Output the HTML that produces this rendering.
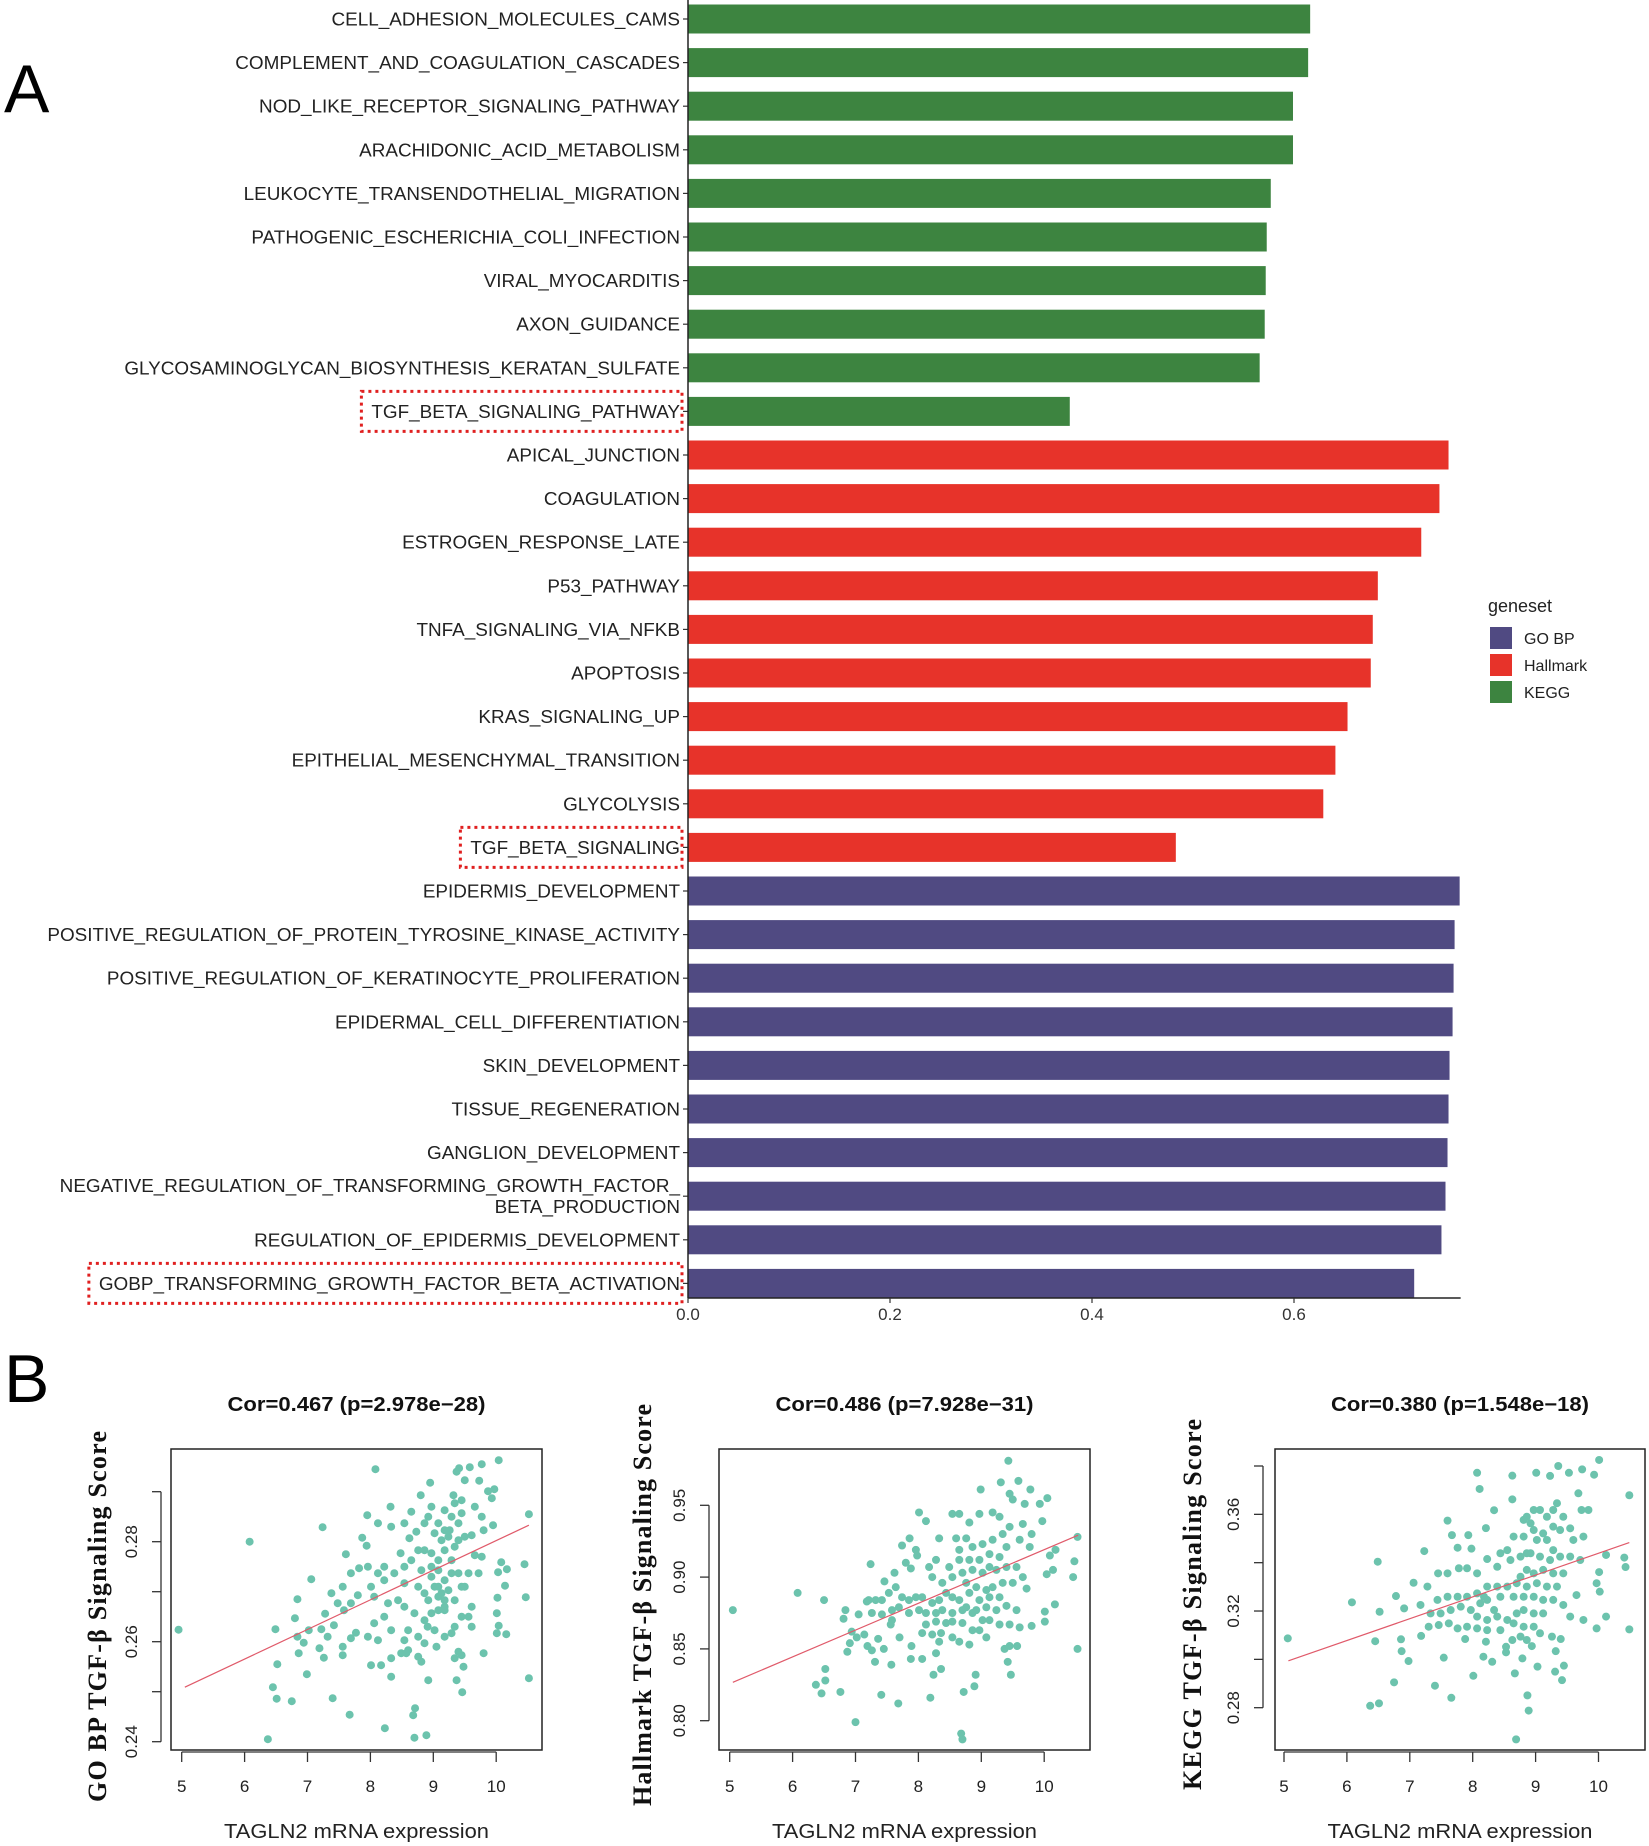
<!DOCTYPE html>
<html><head><meta charset="utf-8"><style>
html,body{margin:0;padding:0;background:#fff}
svg{display:block}
text{font-family:"Liberation Sans",Arial,sans-serif}
</style></head><body>
<svg id="fig" width="1649" height="1846" viewBox="0 0 1649 1846" xmlns="http://www.w3.org/2000/svg">
<text x="4" y="112" font-size="68">A</text>
<text x="4" y="1402" font-size="68">B</text>
<g id="bars"></g>
<g id="legend">
<text x="1488" y="612" font-size="18" fill="#222">geneset</text>
<rect x="1490" y="627" width="22" height="22" fill="#504a82"/>
<text x="1524" y="644" font-size="16" fill="#222">GO BP</text>
<rect x="1490" y="654" width="22" height="22" fill="#e7332a"/>
<text x="1524" y="671" font-size="16" fill="#222">Hallmark</text>
<rect x="1490" y="681" width="22" height="22" fill="#3d8440"/>
<text x="1524" y="698" font-size="16" fill="#222">KEGG</text>
</g>
<g id="scatters"></g>
</svg>
<script>
const NS="http://www.w3.org/2000/svg";
// ---- bar chart data ----
const barCategories=["CELL_ADHESION_MOLECULES_CAMS","COMPLEMENT_AND_COAGULATION_CASCADES","NOD_LIKE_RECEPTOR_SIGNALING_PATHWAY","ARACHIDONIC_ACID_METABOLISM","LEUKOCYTE_TRANSENDOTHELIAL_MIGRATION","PATHOGENIC_ESCHERICHIA_COLI_INFECTION","VIRAL_MYOCARDITIS","AXON_GUIDANCE","GLYCOSAMINOGLYCAN_BIOSYNTHESIS_KERATAN_SULFATE","TGF_BETA_SIGNALING_PATHWAY","APICAL_JUNCTION","COAGULATION","ESTROGEN_RESPONSE_LATE","P53_PATHWAY","TNFA_SIGNALING_VIA_NFKB","APOPTOSIS","KRAS_SIGNALING_UP","EPITHELIAL_MESENCHYMAL_TRANSITION","GLYCOLYSIS","TGF_BETA_SIGNALING","EPIDERMIS_DEVELOPMENT","POSITIVE_REGULATION_OF_PROTEIN_TYROSINE_KINASE_ACTIVITY","POSITIVE_REGULATION_OF_KERATINOCYTE_PROLIFERATION","EPIDERMAL_CELL_DIFFERENTIATION","SKIN_DEVELOPMENT","TISSUE_REGENERATION","GANGLION_DEVELOPMENT","NEGATIVE_REGULATION_OF_TRANSFORMING_GROWTH_FACTOR_|BETA_PRODUCTION","REGULATION_OF_EPIDERMIS_DEVELOPMENT","GOBP_TRANSFORMING_GROWTH_FACTOR_BETA_ACTIVATION"];
const barValues=[0.616,0.614,0.599,0.599,0.577,0.573,0.572,0.571,0.566,0.378,0.753,0.744,0.726,0.683,0.678,0.676,0.653,0.641,0.629,0.483,0.764,0.759,0.758,0.757,0.754,0.753,0.752,0.750,0.746,0.719];
const barGroups=["KEGG","KEGG","KEGG","KEGG","KEGG","KEGG","KEGG","KEGG","KEGG","KEGG","Hallmark","Hallmark","Hallmark","Hallmark","Hallmark","Hallmark","Hallmark","Hallmark","Hallmark","Hallmark","GO BP","GO BP","GO BP","GO BP","GO BP","GO BP","GO BP","GO BP","GO BP","GO BP"];
const highlighted=["TGF_BETA_SIGNALING_PATHWAY","TGF_BETA_SIGNALING","GOBP_TRANSFORMING_GROWTH_FACTOR_BETA_ACTIVATION"];
const xTicks=[0,0.2,0.4,0.6];
const xTickLabels=["0.0","0.2","0.4","0.6"];
const groupColor={"KEGG":"#3d8440","Hallmark":"#e7332a","GO BP":"#504a82"};
function el(tag,attrs,parent){const e=document.createElementNS(NS,tag);for(const k in attrs)e.setAttribute(k,attrs[k]);parent.appendChild(e);return e;}
const bx=v=>688+v*1010;
const by=i=>19+i*43.6;
const bars=document.getElementById('bars');
barCategories.forEach((c,i)=>{
  const r=el('rect',{x:bx(0),y:by(i)-14.5,width:bx(barValues[i])-bx(0),height:29,fill:groupColor[barGroups[i]]},bars);
  
  
  const tk=el('line',{x1:683,x2:688,y1:by(i),y2:by(i),stroke:'#333','stroke-width':1.2},bars);
  
  
  const parts=c.split('|');
  parts.forEach((p,j)=>{
    const dy=parts.length>1?(j===0?-4:17):6.5;
    const t=el('text',{x:680,y:by(i)+dy,'text-anchor':'end','font-size':18.9,fill:'#222'},bars);
    t.textContent=p;
    
    
    if(highlighted.includes(c)){
      const w=t.getComputedTextLength();
      const b=el('rect',{x:680-w-10,y:by(i)-20,width:w+12,height:40,fill:'none',stroke:'#e02020','stroke-width':3,'stroke-dasharray':'3,4'},bars);
      
      
    }
  });
});
let ax=el('line',{x1:688,x2:688,y1:0,y2:1298,stroke:'#222','stroke-width':1.5},bars);


ax=el('line',{x1:688,x2:bx(0.765),y1:1298,y2:1298,stroke:'#222','stroke-width':1.5},bars);


xTicks.forEach((v,i)=>{
  const l=el('line',{x1:bx(v),x2:bx(v),y1:1298,y2:1303,stroke:'#333','stroke-width':1.2},bars);
  
  
  const t=el('text',{x:bx(v),y:1320,'text-anchor':'middle','font-size':17,fill:'#333'},bars);
  t.textContent=xTickLabels[i];
  
  
});
// ---- scatter data ----
const p1x=[4.95,6.08,7.24,8.08,6.37,6.45,6.51,6.75,7.40,7.67,8.23,8.70,8.89,8.71,8.68,10.52,10.52,10.04,9.77,9.58,9.41,9.37,9.73,9.50,9.97,9.87,8.95,8.80,8.32,7.95,8.12,7.87,7.94,7.61,7.06,6.84,6.80,6.49,6.86,6.99,6.52,7.28,7.38,7.56,7.02,7.22,7.42,6.84,6.94,7.19,7.26,7.56,7.56,7.32,7.69,7.77,7.58,7.69,7.48,7.80,7.69,7.82,7.96,8.01,8.06,8.12,8.22,8.22,8.38,8.48,8.33,8.54,8.65,8.62,8.73,8.86,8.97,9.08,9.18,9.29,9.40,9.24,9.40,9.50,9.61,9.66,9.77,9.80,9.95,9.93,8.86,8.97,9.08,9.18,9.29,8.76,8.65,8.54,8.81,8.97,9.08,9.18,9.08,8.86,8.76,8.54,8.44,8.28,8.54,8.70,8.86,8.97,9.08,9.18,9.34,9.45,9.56,9.72,9.77,9.66,9.50,9.61,9.56,9.45,9.34,9.18,9.02,8.91,8.76,8.60,8.54,8.60,8.49,8.33,8.22,8.06,7.96,8.12,8.01,8.17,8.33,8.33,8.57,8.76,8.81,8.92,9.05,8.86,9.40,9.34,9.45,9.48,9.37,9.46,9.80,10.01,10.16,10.04,10.01,10.02,10.14,10.03,10.17,10.08,10.45,10.47,9.61,9.29,9.18,9.24,9.29,9.40,9.08,8.97,9.02,9.13,9.18,8.92,9.18,9.34,9.45,9.32,9.26,9.34,9.13,9.02,8.92,9.45];
const p1y=[0.2624,0.2800,0.2829,0.2945,0.2405,0.2509,0.2486,0.2481,0.2487,0.2454,0.2427,0.2408,0.2413,0.2467,0.2453,0.2527,0.2855,0.2963,0.2955,0.2949,0.2947,0.2940,0.2922,0.2923,0.2905,0.2901,0.2918,0.2893,0.2870,0.2853,0.2837,0.2808,0.2792,0.2775,0.2725,0.2685,0.2647,0.2625,0.2577,0.2535,0.2555,0.2656,0.2697,0.2710,0.2623,0.2625,0.2633,0.2610,0.2598,0.2587,0.2568,0.2573,0.2590,0.2610,0.2607,0.2618,0.2663,0.2677,0.2677,0.2693,0.2737,0.2747,0.2750,0.2710,0.2690,0.2737,0.2723,0.2750,0.2737,0.2777,0.2830,0.2837,0.2860,0.2807,0.2820,0.2837,0.2870,0.2837,0.2863,0.2850,0.2837,0.2810,0.2803,0.2810,0.2813,0.2870,0.2850,0.2823,0.2833,0.2887,0.2783,0.2777,0.2763,0.2783,0.2763,0.2783,0.2763,0.2750,0.2743,0.2730,0.2710,0.2723,0.2690,0.2697,0.2710,0.2717,0.2683,0.2677,0.2670,0.2657,0.2643,0.2657,0.2663,0.2663,0.2683,0.2710,0.2737,0.2737,0.2770,0.2773,0.2710,0.2670,0.2650,0.2650,0.2630,0.2610,0.2623,0.2630,0.2610,0.2623,0.2603,0.2583,0.2577,0.2623,0.2650,0.2637,0.2610,0.2603,0.2553,0.2553,0.2530,0.2567,0.2577,0.2570,0.2560,0.2523,0.2590,0.2597,0.2580,0.2567,0.2573,0.2550,0.2523,0.2499,0.2577,0.2617,0.2615,0.2632,0.2657,0.2688,0.2712,0.2739,0.2745,0.2759,0.2755,0.2689,0.2630,0.2617,0.2670,0.2703,0.2737,0.2737,0.2743,0.2750,0.2710,0.2697,0.2683,0.2683,0.2823,0.2877,0.2883,0.2893,0.2823,0.2790,0.2803,0.2817,0.2850,0.2857];
const p2x=[5.05,6.08,6.50,7.24,6.37,6.46,6.52,6.52,6.76,7.00,7.41,7.68,8.19,8.24,8.36,8.72,8.89,8.91,8.68,8.70,9.47,9.42,9.37,9.45,9.57,10.53,10.01,10.01,10.17,10.04,10.14,10.09,10.18,10.46,10.48,10.53,9.97,10.05,9.93,9.78,9.59,9.43,9.31,8.99,9.45,9.50,9.69,9.66,9.80,9.77,9.61,9.45,9.29,9.18,8.97,8.81,8.65,8.54,8.01,8.12,7.86,7.74,7.96,7.98,7.80,7.88,7.62,7.46,8.33,8.60,8.76,8.65,8.86,9.02,9.18,9.34,9.40,9.29,9.13,8.97,8.81,8.65,8.49,8.28,8.17,8.22,8.38,8.54,8.70,8.86,9.02,9.13,9.24,9.40,9.56,9.66,9.50,9.34,9.18,9.08,8.92,8.76,8.81,8.97,9.13,9.29,9.40,9.56,9.72,9.24,9.08,8.92,8.76,8.65,8.54,8.44,8.33,8.22,8.06,7.96,7.85,7.74,7.64,7.53,7.42,7.32,7.21,7.26,7.42,7.58,7.69,7.85,8.01,8.12,8.28,8.38,8.54,8.70,8.86,9.02,9.13,8.97,8.86,8.70,8.54,8.44,8.28,8.12,8.06,8.22,8.36,8.54,8.65,8.81,9.08,9.29,9.45,9.61,9.80,8.33,8.28,8.06,7.89,7.88,7.57,7.70,7.58,7.56,7.36,7.45,7.31,7.26,7.19,7.14,7.02,6.94,6.91,6.87,6.81,6.84,7.05,7.18];
const p2y=[0.877,0.889,0.884,0.909,0.825,0.819,0.828,0.836,0.820,0.799,0.818,0.812,0.816,0.832,0.836,0.820,0.824,0.832,0.791,0.787,0.832,0.841,0.850,0.852,0.852,0.850,0.869,0.876,0.881,0.902,0.905,0.915,0.919,0.900,0.911,0.928,0.939,0.955,0.951,0.961,0.967,0.981,0.966,0.961,0.958,0.954,0.951,0.937,0.930,0.921,0.926,0.935,0.942,0.945,0.944,0.938,0.944,0.944,0.945,0.939,0.927,0.922,0.919,0.915,0.910,0.906,0.903,0.897,0.927,0.927,0.927,0.919,0.921,0.923,0.926,0.930,0.921,0.914,0.916,0.912,0.912,0.912,0.907,0.912,0.907,0.900,0.896,0.900,0.903,0.905,0.903,0.907,0.905,0.907,0.907,0.900,0.896,0.896,0.893,0.891,0.893,0.896,0.889,0.884,0.886,0.886,0.880,0.877,0.892,0.877,0.879,0.877,0.879,0.884,0.886,0.889,0.884,0.882,0.886,0.886,0.884,0.886,0.893,0.889,0.884,0.884,0.884,0.875,0.874,0.877,0.879,0.875,0.877,0.875,0.875,0.877,0.875,0.877,0.875,0.870,0.870,0.863,0.863,0.868,0.869,0.868,0.869,0.867,0.861,0.860,0.861,0.858,0.855,0.853,0.858,0.867,0.867,0.865,0.866,0.855,0.847,0.843,0.852,0.843,0.839,0.858,0.870,0.867,0.857,0.850,0.841,0.849,0.852,0.860,0.858,0.862,0.854,0.848,0.871,0.877,0.874,0.883];
const p3x=[5.06,6.08,6.49,6.52,6.45,6.37,6.51,6.75,6.98,6.87,6.86,7.18,7.40,7.54,7.66,8.01,8.17,8.31,8.67,8.79,8.87,8.89,8.69,9.03,9.31,9.42,9.45,9.32,9.40,9.26,9.97,10.12,10.49,10.43,10.41,10.12,10.02,9.97,10.01,10.49,10.01,9.93,9.74,9.53,9.36,9.23,9.01,8.63,8.07,8.11,8.63,8.34,8.21,7.60,7.67,7.93,7.76,7.98,7.23,7.06,6.78,6.91,7.17,7.28,7.45,7.60,7.78,7.91,8.07,8.23,8.39,8.55,8.44,8.65,8.81,8.92,8.86,8.97,9.07,9.18,9.28,9.34,9.44,9.39,9.55,9.60,9.76,9.73,9.84,9.68,9.02,9.18,9.28,9.39,9.55,9.71,9.07,8.92,8.76,8.60,8.86,8.97,9.12,9.28,9.44,9.34,9.18,9.02,8.86,8.70,8.55,8.39,8.23,8.07,7.91,7.76,7.60,7.44,7.33,7.49,7.65,7.81,7.97,8.12,8.23,8.44,8.65,8.81,8.97,9.12,9.28,9.44,9.55,9.76,9.65,9.12,8.97,8.81,8.70,8.55,8.39,8.23,8.07,7.91,7.76,7.62,7.46,7.30,8.07,8.23,8.44,8.65,8.81,8.97,9.07,8.86,8.76,8.63,8.53,8.53,8.94,8.21,7.88,8.34,8.18,8.76,8.86,9.23,9.28,9.12,8.97,8.81];
const p3y=[0.3087,0.3236,0.3404,0.3197,0.3075,0.2808,0.2818,0.2905,0.2993,0.3034,0.3083,0.3097,0.2891,0.3007,0.2841,0.2932,0.3011,0.2990,0.2942,0.3004,0.2851,0.2788,0.2669,0.2970,0.2949,0.2914,0.2974,0.3034,0.3084,0.3094,0.3128,0.3177,0.3124,0.3382,0.3421,0.3432,0.3280,0.3315,0.3361,0.3679,0.3825,0.3764,0.3786,0.3772,0.3800,0.3759,0.3772,0.3760,0.3772,0.3705,0.3662,0.3617,0.3543,0.3574,0.3514,0.3514,0.3462,0.3458,0.3448,0.3317,0.3262,0.3211,0.3225,0.3301,0.3356,0.3356,0.3377,0.3377,0.3356,0.3415,0.3383,0.3452,0.3439,0.3508,0.3508,0.3563,0.3590,0.3618,0.3618,0.3590,0.3618,0.3646,0.3590,0.3535,0.3542,0.3494,0.3508,0.3618,0.3618,0.3687,0.3494,0.3494,0.3452,0.3425,0.3425,0.3411,0.3425,0.3439,0.3425,0.3411,0.3370,0.3356,0.3370,0.3356,0.3356,0.3301,0.3301,0.3315,0.3301,0.3315,0.3301,0.3301,0.3301,0.3273,0.3259,0.3259,0.3259,0.3246,0.3190,0.3190,0.3204,0.3218,0.3204,0.3232,0.3246,0.3259,0.3259,0.3259,0.3259,0.3246,0.3246,0.3225,0.3177,0.3163,0.3266,0.3190,0.3190,0.3204,0.3190,0.3163,0.3177,0.3163,0.3177,0.3135,0.3128,0.3149,0.3142,0.3135,0.3128,0.3121,0.3121,0.3149,0.3135,0.3135,0.3108,0.3080,0.3094,0.3080,0.3052,0.3029,0.3055,0.3073,0.3084,0.3204,0.3259,0.3342,0.3439,0.3411,0.3549,0.3521,0.3535,0.3577];
const fitX1=[5.05,10.52],fitY1=[0.2509,0.2833];
const fitX2=[5.05,10.54],fitY2=[0.8267,0.9292];
const fitX3=[5.07,10.49],fitY3=[0.2994,0.3483];
const sxTicks=[5,6,7,8,9,10];
const yTicks1=[0.24,0.25,0.26,0.27,0.28,0.29], yLabels1=["0.24","","0.26","","0.28",""];
const yTicks2=[0.80,0.85,0.90,0.95], yLabels2=["0.80","0.85","0.90","0.95"];
const yTicks3=[0.28,0.30,0.32,0.34,0.36,0.38], yLabels3=["0.28","","0.32","","0.36",""];
const titles=["Cor=0.467 (p=2.978e\u221228)","Cor=0.486 (p=7.928e\u221231)","Cor=0.380 (p=1.548e\u221218)"];
const yTitles=["GO BP TGF-\u03b2 Signaling Score","Hallmark TGF-\u03b2 Signaling Score","KEGG TGF-\u03b2 Signaling Score"];
const panels=[
 {name:'gobp',xs:p1x,ys:p1y,fx:fitX1,fy:fitY1,yt:yTicks1,yl:yLabels1,box:[171,542],x5:181.7,yref:0.24,ypx:1741.7,yscale:5000,yax:161,ytx:[97,1431,1802]},
 {name:'hallmark',xs:p2x,ys:p2y,fx:fitX2,fy:fitY2,yt:yTicks2,yl:yLabels2,box:[719,1090],x5:729.7,yref:0.80,ypx:1720.7,yscale:1436,yax:709,ytx:[642,1404,1806]},
 {name:'kegg',xs:p3x,ys:p3y,fx:fitX3,fy:fitY3,yt:yTicks3,yl:yLabels3,box:[1275,1645],x5:1284,yref:0.28,ypx:1707.7,yscale:2417,yax:1263,ytx:[1192,1419,1790]}
];
const sc=document.getElementById('scatters');
panels.forEach((P,k)=>{
  const g=el('g',{},sc);
  
  
  const X=v=>P.x5+(v-5)*62.9;
  const Y=v=>P.ypx-(v-P.yref)*P.yscale;
  const bb=el('rect',{x:P.box[0],y:1449,width:P.box[1]-P.box[0],height:301,fill:'none',stroke:'#222','stroke-width':1.5},g);
  
  
  P.xs.forEach((xv,i)=>{
    const c=el('circle',{cx:X(xv),cy:Y(P.ys[i]),r:4,fill:'#6cc3ad'},g);
    
    
  });
  const fl=el('line',{x1:X(P.fx[0]),y1:Y(P.fy[0]),x2:X(P.fx[1]),y2:Y(P.fy[1]),stroke:'#e05a6a','stroke-width':1.2},g);
  
  
  const xa=el('line',{x1:X(5),x2:X(10),y1:1752,y2:1752,stroke:'#333','stroke-width':1.3},g);
  
  
  sxTicks.forEach(v=>{
    const l=el('line',{x1:X(v),x2:X(v),y1:1752,y2:1762,stroke:'#333','stroke-width':1.3},g);
    
    
    const t=el('text',{x:X(v),y:1792,'text-anchor':'middle','font-size':17,fill:'#222'},g);
    t.textContent=String(v);
    
    
  });
  const ya=el('line',{x1:P.yax,x2:P.yax,y1:Y(P.yt[0]),y2:Y(P.yt[P.yt.length-1]),stroke:'#333','stroke-width':1.3},g);
  
  
  P.yt.forEach((v,i)=>{
    const l=el('line',{x1:P.yax-9,x2:P.yax,y1:Y(v),y2:Y(v),stroke:'#333','stroke-width':1.3},g);
    
    
    if(P.yl[i]){
      const tx=P.yax-24,ty=Y(v);
      const t=el('text',{x:tx,y:ty,'text-anchor':'middle','font-size':17,fill:'#222',transform:`rotate(-90 ${tx} ${ty})`},g);
      t.textContent=P.yl[i];
      
      
    }
  });
  const cx=(P.box[0]+P.box[1])/2;
  const tt=el('text',{x:cx,y:1411,'text-anchor':'middle','font-size':20,'font-weight':'bold',fill:'#111',textLength:258,lengthAdjust:'spacingAndGlyphs'},g);
  tt.textContent=titles[k];
  
  
  const xl=el('text',{x:cx,y:1838,'text-anchor':'middle','font-size':20,fill:'#222',textLength:265,lengthAdjust:'spacingAndGlyphs'},g);
  xl.textContent='TAGLN2 mRNA expression';
  
  
  const [yx,y0,y1]=P.ytx, ym=(y0+y1)/2;
  const yt=el('text',{x:yx+9,y:ym,'text-anchor':'middle','font-size':26,'font-weight':'bold',fill:'#111',style:'font-family:"Liberation Serif",serif',textLength:y1-y0,lengthAdjust:'spacing',transform:`rotate(-90 ${yx+9} ${ym})`},g);
  yt.textContent=yTitles[k];
  
  
});
</script>
</body></html>
